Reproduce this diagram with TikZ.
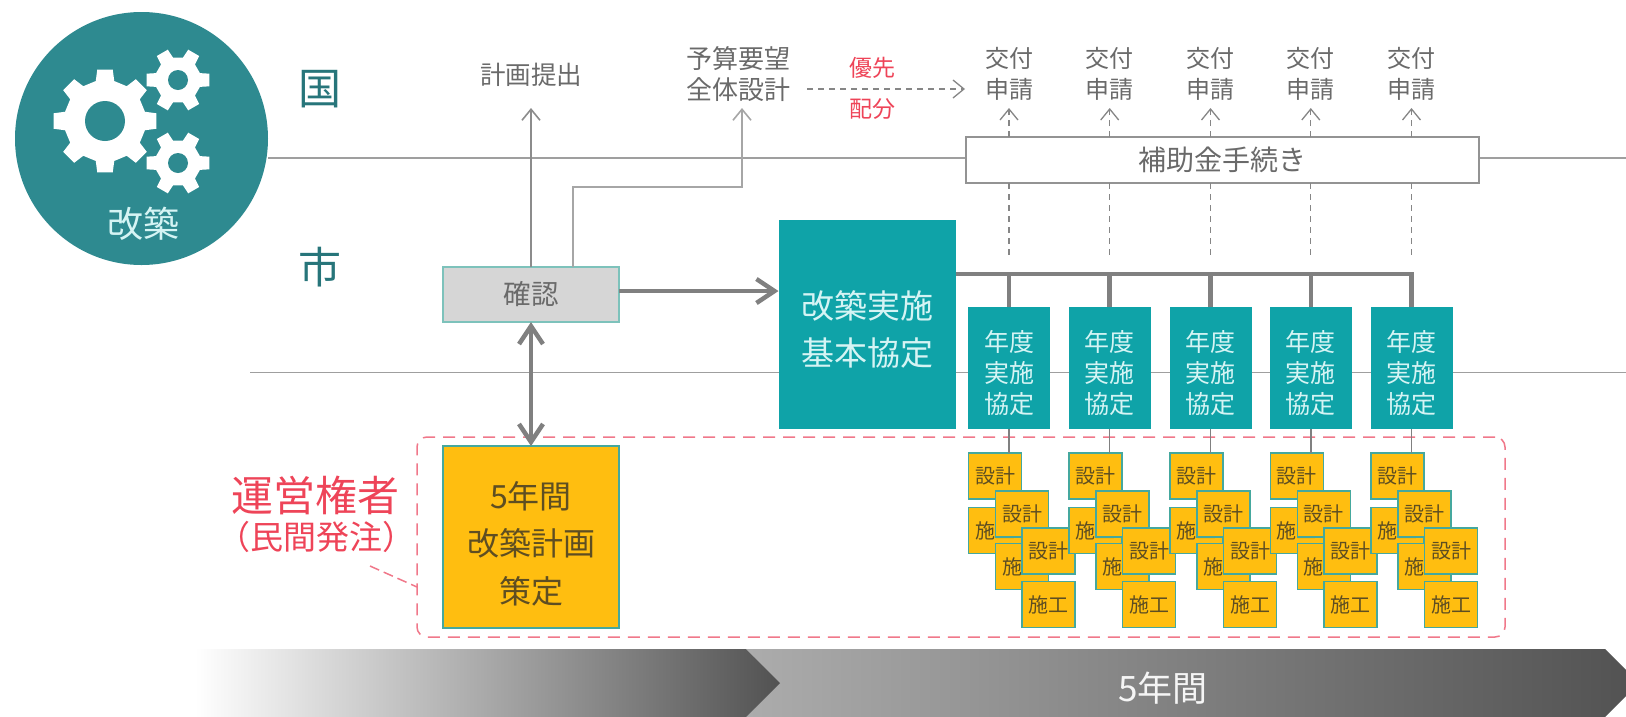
\documentclass[tikz,border=0pt]{standalone}
\usepackage{fontspec}
\setmainfont{Noto Sans CJK JP}
\usetikzlibrary{arrows.meta}
\definecolor{circteal}{HTML}{2E8A90}
\definecolor{boxteal}{HTML}{0FA3A8}
\definecolor{yel}{HTML}{FFBE10}
\definecolor{edgeteal}{HTML}{45A89E}
\definecolor{redtxt}{HTML}{EE4458}
\definecolor{reddash}{HTML}{F0788A}
\definecolor{graytxt}{HTML}{6A6A6A}
\definecolor{brown}{HTML}{5E4E22}
\definecolor{lightteal}{HTML}{D5F4F4}
\newcommand{\fs}[2]{\fontsize{#1}{#2}\selectfont}
\newcommand{\geartoothed}[5]{% cx cy outer inner teeth
  \pgfmathsetmacro{\gstep}{360/#5}
  \pgfmathsetmacro{\gw}{\gstep*0.19}
  \pgfmathsetmacro{\gv}{\gstep*0.29}
  \fill[white] ([shift={(#1,#2)}]-\gv:#4)
    \foreach \ga in {1,...,#5}{
      \pgfextra{\pgfmathsetmacro{\th}{(\ga-1)*\gstep}}
      -- ([shift={(#1,#2)}]\th-\gw:#3) -- ([shift={(#1,#2)}]\th+\gw:#3) -- ([shift={(#1,#2)}]\th+\gv:#4)
      -- ([shift={(#1,#2)}]\th+\gstep-\gv:#4)
    } -- cycle;
}
\tikzset{
  thinline/.style={draw=gray!75,line width=1.5},
  barb/.style={-{Straight Barb[length=11,width=18]}},
  arrowthin/.style={draw=gray!90,line width=1.6,barb},
  arrowdash/.style={draw=gray!95,line width=1.3,dash pattern=on 6 off 5,barb},
  dropdash/.style={draw=gray!95,line width=1.3,dash pattern=on 6 off 5},
  arrowthick/.style={draw=gray,line width=4.5},
  label/.style={inner sep=0,outer sep=0,text=graytxt,align=center},
  tealbox/.style={fill=boxteal,draw=none,inner sep=0,outer sep=0,text=lightteal,align=center},
  yelbox/.style={fill=yel,draw=edgeteal,line width=1.5,inner sep=0,outer sep=0,text=brown,align=center},
  smallbox/.style={yelbox,minimum width=53,minimum height=46,font=\fs{20}{24}},
}
\begin{document}
\begin{tikzpicture}[x=1pt,y=-1pt]
\useasboundingbox (0,0) rectangle (1626,716);
% band lines
\coordinate (l1a) at (268,158); \coordinate (l1b) at (1626,158);
\coordinate (l2a) at (250,372.5); \coordinate (l2b) at (1626,372.5);
\draw[thinline] (l1a) -- (l1b);
\draw[thinline] (l2a) -- (l2b);
% bottom chevrons
\begin{scope}
\clip (0,0) rectangle (1626,716);
\shade[left color=gray!65,right color=black!68] (746,649) -- (1605,649) -- (1639,683) -- (1605,717) -- (746,717) -- (779,683) -- cycle;
\shade[left color=white,right color=black!68] (195,649) -- (746,649) -- (780,683) -- (746,717) -- (195,717) -- cycle;
\end{scope}
\node[inner sep=0,text=white!92!gray,font=\fs{35}{40}] (fiveyr) at (1163,688) {5年間};
% badge
\node[circle,fill=circteal,minimum size=253,inner sep=0] (badge) at (141.5,138.5) {};
\geartoothed{105}{121}{52}{41}{8}
\fill[circteal] (105,121) circle (20);
\geartoothed{178}{80}{32}{23}{6}
\fill[circteal] (178,80) circle (10);
\geartoothed{178}{163}{32}{23}{6}
\fill[circteal] (178,163) circle (10);
\node[inner sep=0,text=lightteal,font=\fs{36}{40}] (kaichiku) at (143,224) {改築};
\node[inner sep=0,text=circteal!85!black,font=\fs{43}{48}] (kuni) at (320,89) {国};
\node[inner sep=0,text=circteal!85!black,font=\fs{43}{48}] (shi) at (320,267) {市};
% red dashed group
\node[draw=reddash,line width=1.5,dash pattern=on 12 off 8,rounded corners=10,minimum width=1088,minimum height=200,inner sep=0,outer sep=0] (operator) at (961,537) {};
\node[inner sep=0,text=redtxt,font=\fs{42}{48}] (unei) at (315,495) {運営権者};
\node[inner sep=0,text=redtxt,font=\fs{33}{36}] (minkan) at (316,537) {（民間発注）};
\coordinate (leader) at (370,566);
\draw[draw=reddash,line width=1.5,dash pattern=on 10 off 5] (leader) -- (417,587);
% top labels
\node[label,font=\fs{25.5}{31}] (keikaku) at (531,75) {計画提出};
\node[label,font=\fs{26}{31}] (yosan) at (738,74.5) {予算要望\\全体設計};
\node[inner sep=0,text=redtxt,font=\fs{23}{27}] (yusen) at (872,68) {優先};
\node[inner sep=0,text=redtxt,font=\fs{23}{27}] (haibun) at (872,109) {配分};
% main nodes
\node[fill=gray!32,draw=edgeteal!70,line width=2,minimum width=176,minimum height=55,inner sep=0,outer sep=0,text=graytxt,font=\fs{27.5}{32}] (kakunin) at (531,294.5) {確認};
\node[tealbox,minimum width=177,minimum height=209,font=\fs{33}{47}] (kihon) at (867,324.5) {\rule{0pt}{37pt}改築実施\\基本協定};
\node[yelbox,minimum width=176,minimum height=182,font=\fs{32}{47.5}] (plan) at (531,537) {\rule{0pt}{40pt}5年間\\改築計画\\策定};
\node[draw=gray!85,fill=white,line width=2,minimum width=513,minimum height=46,inner sep=0,outer sep=0,text=graytxt,font=\fs{28}{32}] (hojo) at (1222.5,160) {補助金手続き};
% connectors from kakunin
\coordinate (k1) at (531,108);
\coordinate (k2s) at (573,267);
\coordinate (k2e) at (742,108);
\draw[arrowthin] (kakunin.north -| k1) -- (k1);
\draw[arrowthin,draw=gray!70] (k2s) |- (742,187) -- (k2e);
\draw[arrowthick,-{Straight Barb[length=18,width=24]}] (kakunin.east |- 0,291) -- (kihon.west |- 0,291);
\draw[arrowthick,{Straight Barb[length=18,width=24]}-{Straight Barb[length=18,width=24]}] (kakunin.south) -- (plan.north);
% dashed priority arrow
\coordinate (pa) at (807,89); \coordinate (pb) at (965,89);
\draw[arrowdash] (pa) -- (pb);
% bus
\coordinate (busl) at (kihon.east |- 0,274);
\coordinate (busr) at (1413.75,274);
\draw[draw=gray,line width=4.5] (busl) -- (busr);
% yearly groups
\foreach \g/\cx in {1/1009,2/1109.7,3/1210.5,4/1310.8,5/1411.5}{
  \node[label,font=\fs{24}{31}] (req\g) at (\cx,73.5) {交付\\申請};
  \coordinate (top\g) at (\cx,108);
  \draw[arrowdash] (\cx,137) -- (top\g);
  \coordinate (dr\g) at (\cx,255);
  \draw[dropdash] (\cx,183) -- (dr\g);
  \node[tealbox,minimum width=82,minimum height=122,font=\fs{25}{31}] (yr\g) at (\cx,368) {\rule{0pt}{32pt}年度\\実施\\協定};
  \draw[draw=gray,line width=4.5] (\cx,274) -- (yr\g.north);
  \node[smallbox] (da\g) at (\cx-14,476) {設計};
  \draw[draw=gray,line width=1.5] (yr\g.south) -- (\cx,453);
  \node[smallbox] (sa\g) at (\cx-14,530.5) {施工};
  \node[smallbox] (db\g) at (\cx+13,514) {設計};
  \node[smallbox] (sb\g) at (\cx+13,566.5) {施工};
  \node[smallbox] (dc\g) at (\cx+39.5,551) {設計};
  \node[smallbox] (sc\g) at (\cx+39.5,604.5) {施工};
}
\end{tikzpicture}
\end{document}
